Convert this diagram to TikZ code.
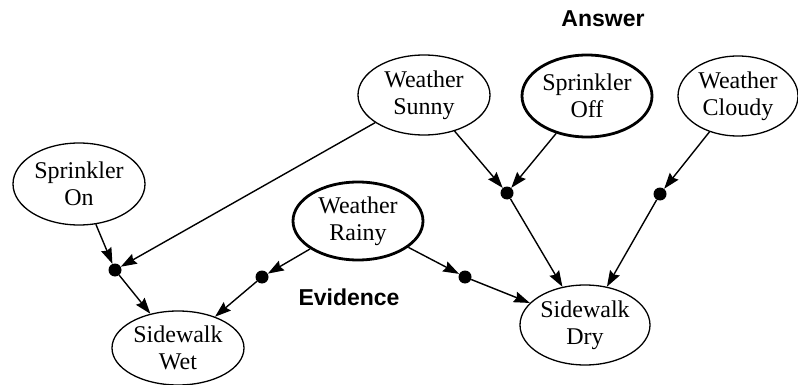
\documentclass[tikz,border=0pt]{standalone}
\usepackage{fontspec}
\setmainfont{Liberation Serif}
\newfontfamily\tagfont{Liberation Sans}
\usepackage{tikz}
\usetikzlibrary{arrows.meta,shapes.geometric}

\begin{document}
\begin{tikzpicture}[
  x=1pt,y=-1pt,
  var/.style={draw,ellipse,line width=1.3pt,inner sep=0pt,align=center,font=\fontsize{24}{27}\selectfont},
  key/.style={var,line width=2.8pt},
  junc/.style={circle,fill=black,inner sep=0pt,minimum size=13pt},
  arrow/.style={-{Stealth[length=16pt,width=11pt,inset=2pt]},line width=1.4pt},
  tag/.style={font=\tagfont\bfseries\fontsize{23}{26}\selectfont}
]
\useasboundingbox (0,0) rectangle (798,385);
\node[var,minimum width=132pt,minimum height=80pt] (sunny) at (424,95) {Weather\\Sunny};
\node[key,minimum width=130pt,minimum height=82pt] (off) at (587,96) {Sprinkler\\Off};
\node[var,minimum width=120pt,minimum height=80pt] (cloudy) at (738,96) {Weather\\Cloudy};
\node[var,minimum width=132pt,minimum height=82pt] (on) at (79,184) {Sprinkler\\On};
\node[key,minimum width=130pt,minimum height=78pt] (rainy) at (358,221) {Weather\\Rainy};
\node[var,minimum width=132pt,minimum height=74pt] (wet) at (178,348) {Sidewalk\\Wet};
\node[var,minimum width=130pt,minimum height=80pt] (dry) at (585,325) {Sidewalk\\Dry};
\node[junc] (j1) at (115,270) {};
\node[junc] (j2) at (262,277) {};
\node[junc] (j3) at (465,277) {};
\node[junc] (j4) at (507,193) {};
\node[junc] (j5) at (660,194) {};
\node[tag] (answer) at (603,19) {Answer};
\node[tag] (evidence) at (349,297) {Evidence};
\draw[arrow] (on) -- (j1);
\draw[arrow] (sunny) -- (j1);
\draw[arrow] (j1) -- (wet);
\draw[arrow] (rainy) -- (j2);
\draw[arrow] (j2) -- (wet);
\draw[arrow] (rainy) -- (j3);
\draw[arrow] (j3) -- (dry);
\draw[arrow] (sunny) -- (j4);
\draw[arrow] (off) -- (j4);
\draw[arrow] (j4) -- (dry);
\draw[arrow] (cloudy) -- (j5);
\draw[arrow] (j5) -- (dry);
\end{tikzpicture}
\end{document}
